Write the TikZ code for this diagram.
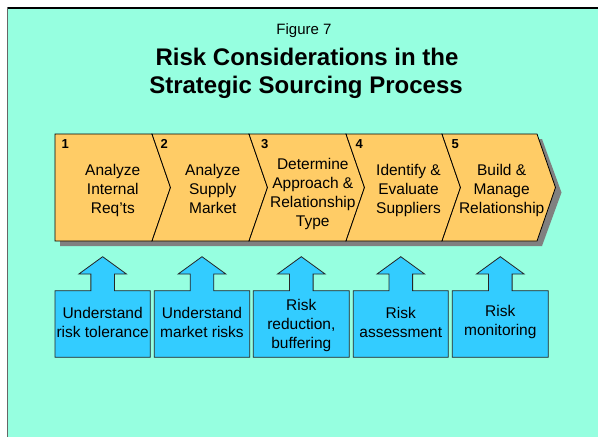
\documentclass[tikz,border=0pt]{standalone}
\usepackage{fontspec}
\setmainfont{Liberation Sans}
\begin{document}
\begin{tikzpicture}[x=1pt,y=-1pt,
  stepnum/.style={anchor=base west,font=\fontsize{13}{15}\selectfont\bfseries,inner sep=0},
  steptext/.style={align=center,font=\fontsize{15.5}{19}\selectfont,inner sep=0},
  risktext/.style={align=center,font=\fontsize{15.5}{19}\selectfont,inner sep=0},
  chev/.style={fill=chevfill,draw=black,line width=0.8pt,line join=miter},
  riskshape/.style={fill=riskfill,draw=black!85,line width=0.8pt,line join=miter}]
  \definecolor{bgaqua}{RGB}{150,255,224}
  \definecolor{chevfill}{RGB}{255,204,102}
  \definecolor{riskfill}{RGB}{51,204,255}
  \definecolor{shadowgray}{RGB}{128,128,128}
  \useasboundingbox (0,0) rectangle (598,437);
  % page area and its frame
  \fill[white] (0,0) rectangle (598,437);
  \fill[bgaqua] (7,8) rectangle (598,437);
  \draw[black,line width=1.4pt] (7,7.8) -- (598,7.8);
  \draw[black!60,line width=1.6pt] (7.5,7) -- (7.5,437);
  % titles
  \node[anchor=base,font=\fontsize{15}{18}\selectfont,inner sep=0] (fig) at (304,34) {Figure 7};
  \node[anchor=base,font=\fontsize{24}{28}\selectfont\bfseries,inner sep=0] (t1) at (307,65) {Risk Considerations in the};
  \node[anchor=base,font=\fontsize{24}{28}\selectfont\bfseries,inner sep=0] (t2) at (306,93) {Strategic Sourcing Process};
  % chevron band: shadow then the five steps
  \def\ytop{134}\def\ybot{241}\def\ymid{187.5}\def\dep{18.5}
  \fill[shadowgray] (60,\ytop+5) -- (542,\ytop+5) -- (561.5,\ymid+5) -- (542,\ybot+5) -- (60,\ybot+5) -- cycle;
  \draw[chev] (55,\ytop) -- (152,\ytop) -- (152+\dep,\ymid) -- (152,\ybot) -- (55,\ybot) -- cycle;
  \draw[chev] (152,\ytop) -- (249,\ytop) -- (249+\dep,\ymid) -- (249,\ybot) -- (152,\ybot) -- (152+\dep,\ymid) -- cycle;
  \draw[chev] (249,\ytop) -- (346,\ytop) -- (346+\dep,\ymid) -- (346,\ybot) -- (249,\ybot) -- (249+\dep,\ymid) -- cycle;
  \draw[chev] (346,\ytop) -- (442,\ytop) -- (442+\dep,\ymid) -- (442,\ybot) -- (346,\ybot) -- (346+\dep,\ymid) -- cycle;
  \draw[chev] (442,\ytop) -- (537,\ytop) -- (537+\dep,\ymid) -- (537,\ybot) -- (442,\ybot) -- (442+\dep,\ymid) -- cycle;
  % step numbers
  \node[stepnum] (n1) at (61.5,148.5) {1};
  \node[stepnum] (n2) at (160.5,148.5) {2};
  \node[stepnum] (n3) at (261,148.5) {3};
  \node[stepnum] (n4) at (355.5,148.5) {4};
  \node[stepnum] (n5) at (451.5,148.5) {5};
  % step labels
  \node[steptext] (s1) at (112.8,190.5) {Analyze\\Internal\\Req'ts};
  \node[steptext] (s2) at (212.8,189) {Analyze\\Supply\\Market};
  \node[steptext] (s3) at (312.8,193.5) {Determine\\Approach \&\\Relationship\\Type};
  \node[steptext] (s4) at (408.5,190) {Identify \&\\Evaluate\\Suppliers};
  \node[steptext] (s5) at (501.7,190.5) {Build \&\\Manage\\Relationship};
  % risk boxes, each with an up arrow on top
  \foreach \l/\r [count=\i] in {55/150.3, 154.3/249.7, 253.3/349.3, 353.3/448.3, 452.3/548.3}{
    \pgfmathsetmacro{\c}{(\l+\r)/2}
    \draw[riskshape] (\l,290.7) -- (\c-11.8,290.7) -- (\c-11.8,274) -- (\c-23.8,274) -- (\c,256.7)
      -- (\c+23.8,274) -- (\c+11.8,274) -- (\c+11.8,290.7) -- (\r,290.7) -- (\r,357.3) -- (\l,357.3) -- cycle;
  }
  \node[risktext] (r1) at (102.6,322) {Understand\\risk tolerance};
  \node[risktext] (r2) at (202,322) {Understand\\market risks};
  \node[risktext] (r3) at (301.3,325) {Risk\\reduction,\\buffering};
  \node[risktext] (r4) at (400.8,322) {Risk\\assessment};
  \node[risktext] (r5) at (500.3,322) {Risk\\monitoring};
\end{tikzpicture}
\end{document}
